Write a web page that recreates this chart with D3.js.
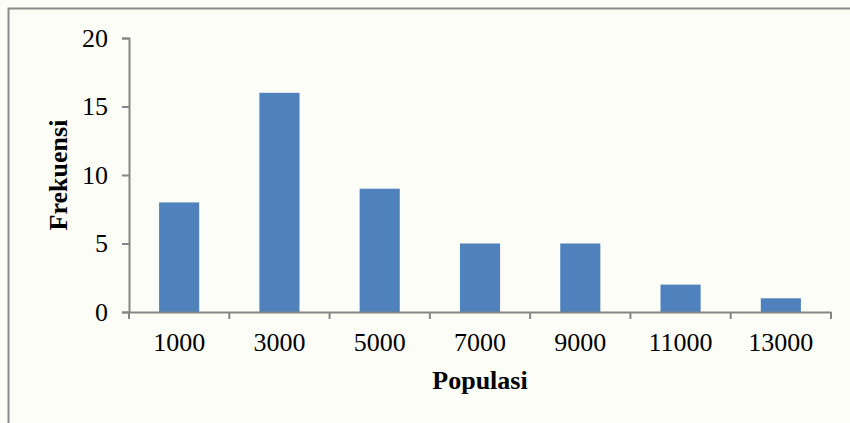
<!DOCTYPE html>
<html><head><meta charset="utf-8">
<script src="https://cdn.jsdelivr.net/npm/d3@7"></script>
<style>html,body{margin:0;padding:0;background:#fcfdf7;}svg{display:block;}</style>
</head><body>
<script>
const categories = ["1000","3000","5000","7000","9000","11000","13000"];
const values = [8,16,9,5,5,2,1];
const yTicks = [0,5,10,15,20];

const W = 850, H = 423;
const svg = d3.select("body").append("svg").attr("width", W).attr("height", H);
svg.append("rect").attr("width", W).attr("height", H).attr("fill", "#fcfdf7");
// outer border (extends off right/bottom)
svg.append("path").attr("d", `M8.5,${H+2}V8.5H${W+2}`).attr("fill","none").attr("stroke","#8a8a8a").attr("stroke-width",2);

const pLeft = 129, pRight = 831, pTop = 38, pBottom = 312;
const x = d3.scaleBand().domain(categories).range([pLeft, pRight]).padding(0);
const y = d3.scaleLinear().domain([0, 20]).range([pBottom, pTop]);

svg.selectAll("rect.bar").data(values).join("rect").attr("class","bar")
  .attr("x", (d,i) => x(categories[i]) + x.bandwidth()*0.3)
  .attr("width", x.bandwidth()*0.4)
  .attr("y", d => y(d)).attr("height", d => y(0) - y(d))
  .attr("fill", "#4f81bd");

const axisColor = "#868686";
const serif = "'Liberation Serif', 'Times New Roman', serif";
const yAxis = svg.append("g").attr("transform", `translate(${pLeft},0)`)
  .call(d3.axisLeft(y).tickValues(yTicks).tickSize(7).tickPadding(14));
const xAxis = svg.append("g").attr("transform", `translate(0,${pBottom})`)
  .call(d3.axisBottom(x).tickSize(0).tickPadding(21));
// x tick marks at band boundaries
const bounds = categories.map(c => x(c)).concat([pRight]);
xAxis.selectAll("line.bt").data(bounds).join("line").attr("class","bt")
  .attr("x1", d => d).attr("x2", d => d).attr("y1", 0).attr("y2", 7)
  .attr("stroke", axisColor).attr("stroke-width", 2);

[yAxis, xAxis].forEach(g => {
  g.attr("font-family", serif).attr("font-size", 26);
  g.select(".domain").attr("stroke", axisColor).attr("stroke-width", 2);
  g.selectAll(".tick line").attr("stroke", axisColor).attr("stroke-width", 2);
  g.selectAll("text").attr("fill", "#000");
});

svg.append("text").attr("x", (pLeft+pRight)/2).attr("y", 389)
  .attr("text-anchor","middle").attr("font-family", serif)
  .attr("font-weight","bold").attr("font-size",26).text("Populasi");
svg.append("text").attr("transform", `translate(67,${(pTop+pBottom)/2}) rotate(-90)`)
  .attr("text-anchor","middle").attr("font-family", serif)
  .attr("font-weight","bold").attr("font-size",26).text("Frekuensi");
</script>
</body></html>
